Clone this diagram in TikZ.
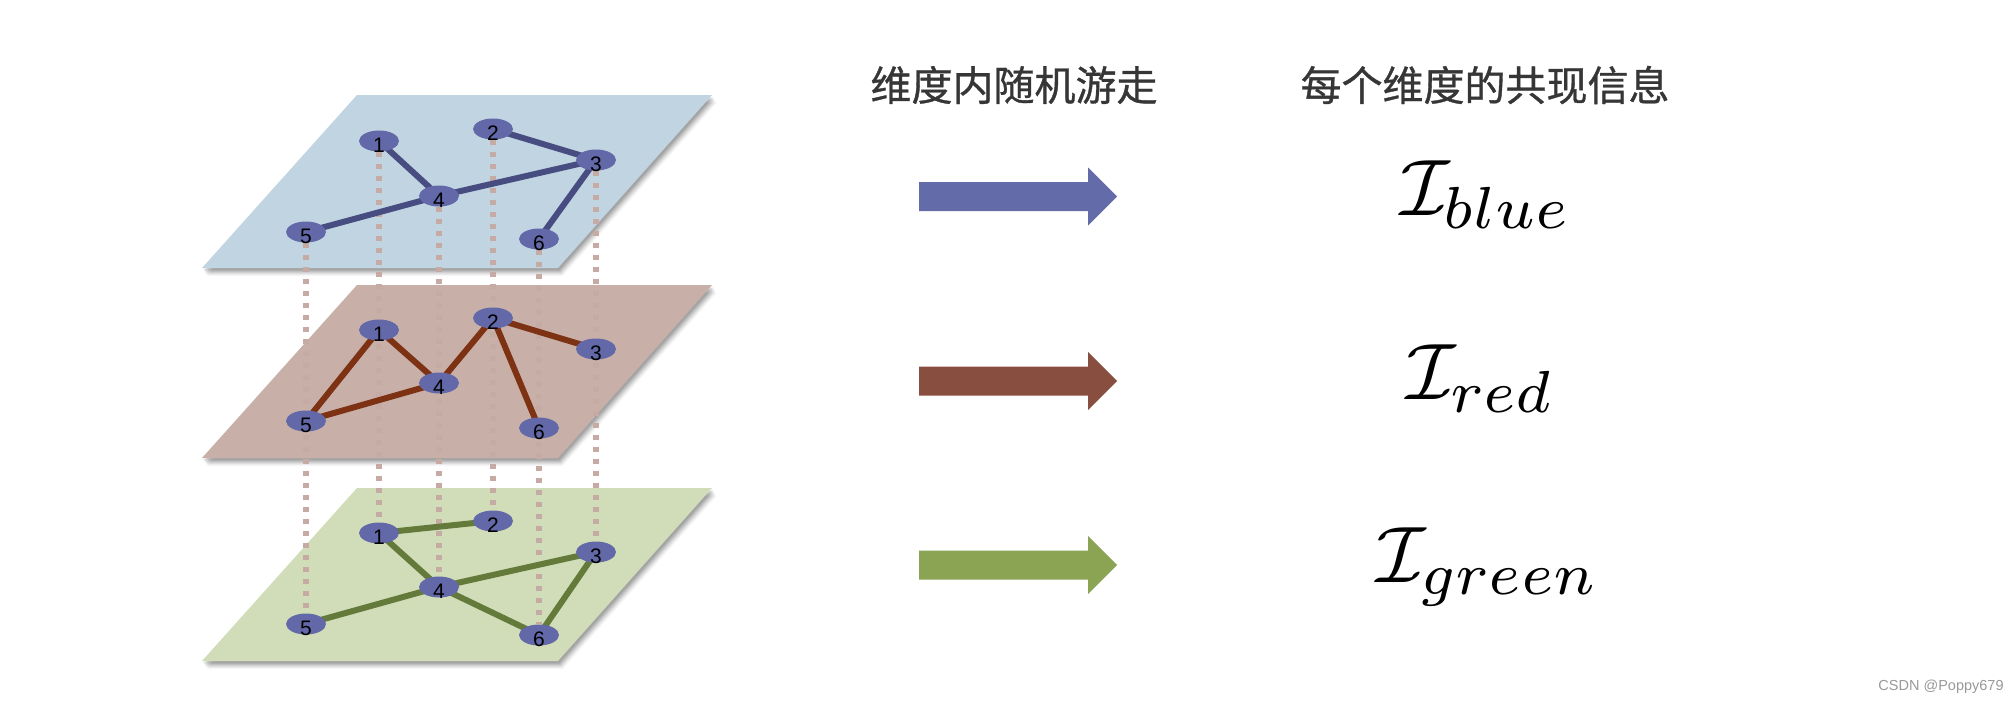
\documentclass[tikz,border=0pt]{standalone}
\usepackage{fontspec}
\usetikzlibrary{shapes.geometric}
\newfontfamily\cjk{Noto Sans CJK SC}[FakeBold=0.8]
\newfontfamily\lab{Liberation Sans}
\definecolor{planeblue}{HTML}{C1D4E1}
\definecolor{planered}{HTML}{C8B0A8}
\definecolor{planegreen}{HTML}{D0DDB8}
\definecolor{nodefill}{HTML}{6268A8}
\definecolor{edgeblue}{HTML}{474D80}
\definecolor{edgered}{HTML}{7D3214}
\definecolor{edgegreen}{HTML}{647A3A}
\definecolor{dotc}{HTML}{C6ABA5}
\definecolor{arrblue}{HTML}{636CA8}
\definecolor{arrred}{HTML}{884E40}
\definecolor{arrgreen}{HTML}{8AA454}
\definecolor{txtc}{HTML}{363636}
\pgfdeclarelayer{planes}
\pgfdeclarelayer{dots}
\pgfdeclarelayer{edges}
\pgfsetlayers{planes,dots,edges,main}
\tikzset{
  vert/.style={ellipse, fill=nodefill, minimum width=40pt, minimum height=21pt, inner sep=0pt},
  lbl/.style={font={\lab\fontsize{21}{24}\selectfont}, text=black, inner sep=0pt, yshift=-4pt},
  bedge/.style={draw=edgeblue, line width=6pt},
  redge/.style={draw=edgered, line width=6pt},
  gedge/.style={draw=edgegreen, line width=6pt},
  dotline/.style={draw=dotc, line width=5.5pt, dash pattern=on 5.5pt off 6.5pt},
  cjkt/.style={font={\cjk\fontsize{41}{48}\selectfont}, text=txtc, inner sep=0pt},
  mathlbl/.style={anchor=base, inner sep=0pt},
  wm/.style={font={\lab\fontsize{14.5}{16}\selectfont}, text=black!40, inner sep=0pt},
  plane/.pic={
    \foreach \k/\o in {8/0.03,7/0.04,6/0.05,5/0.06,4/0.07,3/0.08,2/0.08} {
      \fill[black, opacity=\o] (155+0.6*\k,\k) -- (510+0.6*\k,\k) -- (356+0.6*\k,173+\k) -- (0.6*\k,173+\k) -- cycle;
    }
    \fill[pic actions] (155,0) -- (510,0) -- (356,173) -- (0,173) -- cycle;
  },
  fatarrow/.pic={
    \fill[pic actions] (0,-14.5) -- (169,-14.5) -- (169,-29) -- (198,0) -- (169,29) -- (169,14.5) -- (0,14.5) -- cycle;
  }
}
\begin{document}
\begin{tikzpicture}[x=1pt,y=-1pt]
\useasboundingbox (0,0) rectangle (2012,704);

% background and planes
\begin{pgfonlayer}{planes}
\fill[white] (0,0) rectangle (2012,704);
\pic[fill=planeblue] at (202,95) {plane};
\pic[fill=planered] at (202,285) {plane};
\pic[fill=planegreen] at (202,488) {plane};
\end{pgfonlayer}

% blue layer nodes
\node[vert, label={[lbl]center:1}] (b1) at (379,141) {};
\node[vert, label={[lbl]center:2}] (b2) at (493,129) {};
\node[vert, label={[lbl]center:3}] (b3) at (596,160) {};
\node[vert, label={[lbl]center:4}] (b4) at (439,196) {};
\node[vert, label={[lbl]center:5}] (b5) at (306,232) {};
\node[vert, label={[lbl]center:6}] (b6) at (539,239) {};
% red layer nodes
\node[vert, label={[lbl]center:1}] (r1) at (379,330) {};
\node[vert, label={[lbl]center:2}] (r2) at (493,318) {};
\node[vert, label={[lbl]center:3}] (r3) at (596,349) {};
\node[vert, label={[lbl]center:4}] (r4) at (439,383) {};
\node[vert, label={[lbl]center:5}] (r5) at (306,421) {};
\node[vert, label={[lbl]center:6}] (r6) at (539,428) {};
% green layer nodes
\node[vert, label={[lbl]center:1}] (g1) at (379,533) {};
\node[vert, label={[lbl]center:2}] (g2) at (493,521) {};
\node[vert, label={[lbl]center:3}] (g3) at (596,552) {};
\node[vert, label={[lbl]center:4}] (g4) at (439,587) {};
\node[vert, label={[lbl]center:5}] (g5) at (306,624) {};
\node[vert, label={[lbl]center:6}] (g6) at (539,635) {};

% dotted verticals
\begin{pgfonlayer}{dots}
\foreach \i in {1,...,6} { \draw[dotline] (b\i) -- (g\i); }
\end{pgfonlayer}

% edges
\begin{pgfonlayer}{edges}
\draw[bedge] (b1.center) -- (b4.center);
\draw[bedge] (b2.center) -- (b3.center);
\draw[bedge] (b3.center) -- (b4.center);
\draw[bedge] (b4.center) -- (b5.center);
\draw[bedge] (b3.center) -- (b6.center);
\draw[redge] (r1.center) -- (r5.center);
\draw[redge] (r1.center) -- (r4.center);
\draw[redge] (r4.center) -- (r5.center);
\draw[redge] (r4.center) -- (r2.center);
\draw[redge] (r2.center) -- (r3.center);
\draw[redge] (r2.center) -- (r6.center);
\draw[gedge] (g1.center) -- (g2.center);
\draw[gedge] (g1.center) -- (g4.center);
\draw[gedge] (g4.center) -- (g3.center);
\draw[gedge] (g4.center) -- (g5.center);
\draw[gedge] (g4.center) -- (g6.center);
\draw[gedge] (g3.center) -- (g6.center);
\end{pgfonlayer}

% headings
\node[cjkt] (h1) at (1014,85) {维度内随机游走};
\node[cjkt] (h2) at (1485,85) {每个维度的共现信息};

% arrows
\pic[fill=arrblue] at (919,196.5) {fatarrow};
\pic[fill=arrred] at (919,381) {fatarrow};
\pic[fill=arrgreen] at (919,565) {fatarrow};

% math labels
\node[mathlbl] (ib) at (1486,215) {\scalebox{8}{$\mathcal{I}_{\scalebox{1.06}{$\scriptstyle blue$}}$}};
\node[mathlbl] (ir) at (1481,399) {\scalebox{8}{$\mathcal{I}_{\scalebox{1.06}{$\scriptstyle red$}}$}};
\node[mathlbl] (ig) at (1488,582) {\scalebox{8}{$\mathcal{I}_{\scalebox{1.06}{$\scriptstyle green$}}$}};

% watermark
\node[wm] (w) at (1941,687) {CSDN @Poppy679};
\end{tikzpicture}
\end{document}
